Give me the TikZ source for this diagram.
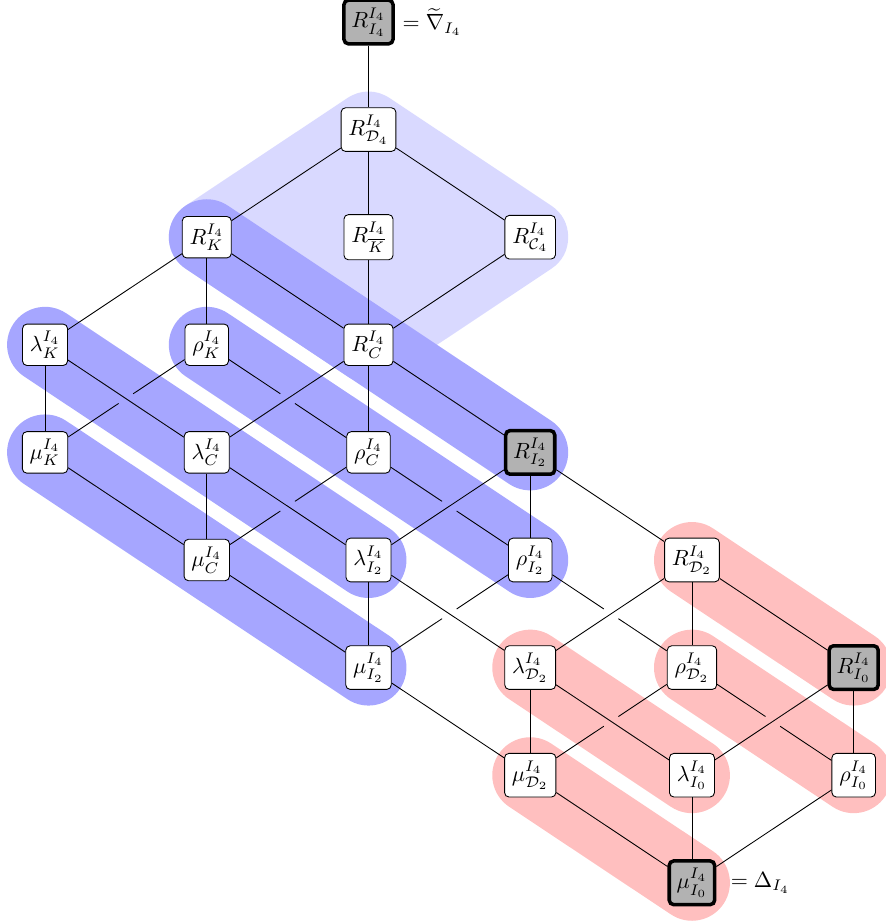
\documentclass[tikz,border=0pt]{standalone}
\usepackage{amsmath}
\usetikzlibrary{positioning,calc,backgrounds}

\tikzset{
  elem/.style={draw,fill=white,rounded corners=2pt},
  fixed/.style={elem,fill=gray!60,ultra thick},
  band/.style={line width=34.5pt,line cap=round,line join=round},
}

% edge that passes behind a crossing edge (gap at the midpoint)
\newcommand{\hiddenedge}[3]{%
  \coordinate (#3) at ($(#1)!.5!(#2)$);
  \draw[shorten >=4pt] (#1) -- (#3);
  \draw[shorten >=4pt] (#2) -- (#3);
}

\begin{document}
\begin{tikzpicture}[x=73.5pt,y=48.9pt]
\useasboundingbox (-0.2785,0.2045) rectangle (5.198,-8.383);

% Top of the lattice
\node[fixed] (RI4) at (2,0) {$R^{I_4}_{I_4}$};
\node[right=0pt of RI4] (nablaI4) {$= \widetilde{\nabla}_{I_4}$};
\node[elem] (RD4) at (2,-1) {$R^{I_4}_{\mathcal{D}_4}$};
\node[elem] (RK) at (1,-2) {$R^{I_4}_{K}$};
\node[elem] (RKbar) at (2,-2) {$R^{I_4}_{\overline{K}}$};
\node[elem] (RC4) at (3,-2) {$R^{I_4}_{\mathcal{C}_4}$};

% K and C
\node[elem] (lamK) at (0,-3) {$\lambda^{I_4}_{K}$};
\node[elem] (rhoK) at (1,-3) {$\rho^{I_4}_{K}$};
\node[elem] (RC) at (2,-3) {$R^{I_4}_{C}$};
\node[elem] (muK) at (0,-4) {$\mu^{I_4}_{K}$};
\node[elem] (lamC) at (1,-4) {$\lambda^{I_4}_{C}$};
\node[elem] (rhoC) at (2,-4) {$\rho^{I_4}_{C}$};
\node[fixed] (RI2) at (3,-4) {$R^{I_4}_{I_2}$};

% I_2 and D_2
\node[elem] (muC) at (1,-5) {$\mu^{I_4}_{C}$};
\node[elem] (lamI2) at (2,-5) {$\lambda^{I_4}_{I_2}$};
\node[elem] (rhoI2) at (3,-5) {$\rho^{I_4}_{I_2}$};
\node[elem] (RD2) at (4,-5) {$R^{I_4}_{\mathcal{D}_2}$};
\node[elem] (muI2) at (2,-6) {$\mu^{I_4}_{I_2}$};
\node[elem] (lamD2) at (3,-6) {$\lambda^{I_4}_{\mathcal{D}_2}$};
\node[elem] (rhoD2) at (4,-6) {$\rho^{I_4}_{\mathcal{D}_2}$};
\node[fixed] (RI0) at (5,-6) {$R^{I_4}_{I_0}$};

% I_0
\node[elem] (muD2) at (3,-7) {$\mu^{I_4}_{\mathcal{D}_2}$};
\node[elem] (lamI0) at (4,-7) {$\lambda^{I_4}_{I_0}$};
\node[elem] (rhoI0) at (5,-7) {$\rho^{I_4}_{I_0}$};
\node[fixed] (muI0) at (4,-8) {$\mu^{I_4}_{I_0}$};
\node[right=3pt of muI0] (DeltaI4) {$= \Delta_{I_4}$};

% Draw the edges
\foreach \a/\b in {RI4/RD4, RD4/RK, RD4/RKbar, RD4/RC4, RK/lamK, RK/rhoK, RK/RC,
    RKbar/RC, RC4/RC, lamK/muK, lamK/lamC, RC/lamC, RC/rhoC, RC/RI2,
    muK/muC, lamC/muC, lamC/lamI2, RI2/lamI2, RI2/rhoI2, RI2/RD2,
    muC/muI2, lamI2/muI2, lamI2/lamD2, RD2/lamD2, RD2/rhoD2, RD2/RI0,
    muI2/muD2, lamD2/muD2, lamD2/lamI0, RI0/lamI0, RI0/rhoI0,
    muD2/muI0, lamI0/muI0, rhoI0/muI0} {
    \draw (\a) -- (\b);
}

% Draw the edges that pass behind
\foreach \a/\b/\m in {rhoK/muK/m1, rhoK/rhoC/m2, rhoC/muC/m3, rhoC/rhoI2/m4,
    rhoI2/muI2/m5, rhoI2/rhoD2/m6, rhoD2/muD2/m7, rhoD2/rhoI0/m8} {
    \hiddenedge{\a}{\b}{\m}
}

% Draw the bands
\begin{scope}[on background layer]
\draw[band,blue!15,fill=blue!15] (RD4.center) -- (RK.center) -- (RC.center) -- (RC4.center) -- cycle;
\foreach \a/\b in {RK/RI2, lamK/lamI2, rhoK/rhoI2, muK/muI2} {
    \draw[band,blue!35] (\a.center) -- (\b.center);
}
\foreach \a/\b in {RD2/RI0, lamD2/lamI0, rhoD2/rhoI0, muD2/muI0} {
    \draw[band,red!25] (\a.center) -- (\b.center);
}
\end{scope}

\end{tikzpicture}
\end{document}
